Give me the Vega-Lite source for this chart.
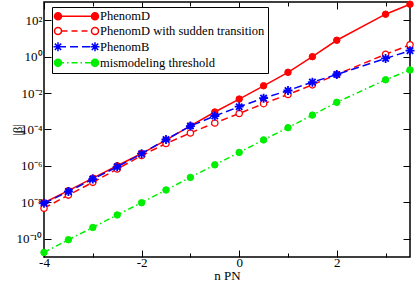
{
  "$schema": "https://vega.github.io/schema/vega-lite/v6.json",
  "width": 366,
  "height": 255,
  "autosize": "none",
  "padding": {"left": 44, "top": 2, "right": 5, "bottom": 26},
  "background": "white",
  "config": {
    "view": {"stroke": "black", "strokeWidth": 1.5},
    "font": "Liberation Serif",
    "axis": {"domain": false, "grid": false, "tickColor": "black", "labelColor": "black", "titleColor": "black", "labelFont": "Liberation Serif", "titleFont": "Liberation Serif", "titleFontWeight": "normal", "labelFlush": false, "labelOverlap": false, "labelBound": false, "tickWidth": 1},
    "legend": {"orient": "none", "legendX": 8, "legendY": 5, "strokeColor": "black", "fillColor": "white", "padding": 3, "symbolSize": 100, "symbolStrokeWidth": 1.5, "labelFont": "Liberation Serif", "labelFontSize": 12.5, "labelColor": "black", "labelLimit": 0, "labelOffset": 32.5, "rowPadding": 0.8, "title": null}
  },
  "datasets": {
    "curves": [
      {"n": -4, "beta": 9.55e-9, "series": "PhenomD"},
      {"n": -3.5, "beta": 4.37e-8, "series": "PhenomD"},
      {"n": -3, "beta": 2.14e-7, "series": "PhenomD"},
      {"n": -2.5, "beta": 1.02e-6, "series": "PhenomD"},
      {"n": -2, "beta": 4.79e-6, "series": "PhenomD"},
      {"n": -1.5, "beta": 2.63e-5, "series": "PhenomD"},
      {"n": -1, "beta": 1.585e-4, "series": "PhenomD"},
      {"n": -0.5, "beta": 9.12e-4, "series": "PhenomD"},
      {"n": 0, "beta": 4.68e-3, "series": "PhenomD"},
      {"n": 0.5, "beta": 2.51e-2, "series": "PhenomD"},
      {"n": 1, "beta": 0.138, "series": "PhenomD"},
      {"n": 1.5, "beta": 1.0, "series": "PhenomD"},
      {"n": 2, "beta": 7.94, "series": "PhenomD"},
      {"n": 3, "beta": 213.8, "series": "PhenomD"},
      {"n": 3.5, "beta": 758.6, "series": "PhenomD"},
      {"n": -4, "beta": 4.79e-9, "series": "PhenomD with sudden transition"},
      {"n": -3.5, "beta": 2.51e-8, "series": "PhenomD with sudden transition"},
      {"n": -3, "beta": 1.26e-7, "series": "PhenomD with sudden transition"},
      {"n": -2.5, "beta": 6.76e-7, "series": "PhenomD with sudden transition"},
      {"n": -2, "beta": 3.72e-6, "series": "PhenomD with sudden transition"},
      {"n": -1.5, "beta": 1.70e-5, "series": "PhenomD with sudden transition"},
      {"n": -1, "beta": 6.46e-5, "series": "PhenomD with sudden transition"},
      {"n": -0.5, "beta": 2.29e-4, "series": "PhenomD with sudden transition"},
      {"n": 0, "beta": 7.59e-4, "series": "PhenomD with sudden transition"},
      {"n": 0.5, "beta": 2.63e-3, "series": "PhenomD with sudden transition"},
      {"n": 1, "beta": 8.32e-3, "series": "PhenomD with sudden transition"},
      {"n": 1.5, "beta": 2.82e-2, "series": "PhenomD with sudden transition"},
      {"n": 2, "beta": 0.1047, "series": "PhenomD with sudden transition"},
      {"n": 3, "beta": 1.349, "series": "PhenomD with sudden transition"},
      {"n": 3.5, "beta": 4.467, "series": "PhenomD with sudden transition"},
      {"n": -4, "beta": 8.91e-9, "series": "PhenomB"},
      {"n": -3.5, "beta": 3.89e-8, "series": "PhenomB"},
      {"n": -3, "beta": 1.905e-7, "series": "PhenomB"},
      {"n": -2.5, "beta": 8.91e-7, "series": "PhenomB"},
      {"n": -2, "beta": 4.68e-6, "series": "PhenomB"},
      {"n": -1.5, "beta": 2.82e-5, "series": "PhenomB"},
      {"n": -1, "beta": 1.55e-4, "series": "PhenomB"},
      {"n": -0.5, "beta": 5.50e-4, "series": "PhenomB"},
      {"n": 0, "beta": 1.78e-3, "series": "PhenomB"},
      {"n": 0.5, "beta": 5.25e-3, "series": "PhenomB"},
      {"n": 1, "beta": 1.38e-2, "series": "PhenomB"},
      {"n": 1.5, "beta": 3.98e-2, "series": "PhenomB"},
      {"n": 2, "beta": 0.1047, "series": "PhenomB"},
      {"n": 3, "beta": 0.794, "series": "PhenomB"},
      {"n": 3.5, "beta": 2.138, "series": "PhenomB"},
      {"n": -4, "beta": 1.78e-11, "series": "mismodeling threshold"},
      {"n": -3.5, "beta": 8.91e-11, "series": "mismodeling threshold"},
      {"n": -3, "beta": 4.17e-10, "series": "mismodeling threshold"},
      {"n": -2.5, "beta": 2.04e-9, "series": "mismodeling threshold"},
      {"n": -2, "beta": 9.55e-9, "series": "mismodeling threshold"},
      {"n": -1.5, "beta": 4.79e-8, "series": "mismodeling threshold"},
      {"n": -1, "beta": 2.34e-7, "series": "mismodeling threshold"},
      {"n": -0.5, "beta": 1.15e-6, "series": "mismodeling threshold"},
      {"n": 0, "beta": 5.50e-6, "series": "mismodeling threshold"},
      {"n": 0.5, "beta": 2.69e-5, "series": "mismodeling threshold"},
      {"n": 1, "beta": 1.26e-4, "series": "mismodeling threshold"},
      {"n": 1.5, "beta": 6.17e-4, "series": "mismodeling threshold"},
      {"n": 2, "beta": 3.09e-3, "series": "mismodeling threshold"},
      {"n": 3, "beta": 5.37e-2, "series": "mismodeling threshold"},
      {"n": 3.5, "beta": 0.186, "series": "mismodeling threshold"}
    ]
  },
  "data": {"name": "curves"},
  "resolve": {"axis": {"x": "independent", "y": "independent"}},
  "layer": [
    {
      "transform": [{"filter": "datum.series == 'PhenomD'"}],
      "mark": {"type": "line", "color": "#ff0000", "strokeWidth": 1.5},
      "encoding": {
        "x": {"field": "n", "type": "quantitative", "scale": {"domain": [-4, 3.5], "nice": false, "zero": false}, "axis": {"orient": "top", "values": [-4, -2, 0, 2], "tickSize": -7, "labels": false, "title": null}},
        "y": {"field": "beta", "type": "quantitative", "scale": {"type": "log", "domain": [1e-11, 1000], "nice": false}, "axis": {"orient": "right", "values": [1e-10, 1e-8, 1e-6, 1e-4, 1e-2, 1, 100], "tickSize": -7, "labels": false, "title": null}}
      }
    },
    {
      "transform": [{"filter": "datum.series == 'PhenomD'"}],
      "mark": {"type": "point", "shape": "circle", "filled": true, "fill": "#ff0000", "stroke": "#ff0000", "strokeWidth": 1, "size": 42, "opacity": 1},
      "encoding": {
        "x": {"field": "n", "type": "quantitative", "axis": {"orient": "top", "values": [-3, -1, 1, 3], "tickSize": -4, "labels": false, "title": null}},
        "y": {"field": "beta", "type": "quantitative", "axis": null}
      }
    },
    {
      "transform": [{"filter": "datum.series == 'PhenomD with sudden transition'"}],
      "mark": {"type": "line", "color": "#ff0000", "strokeWidth": 1.5, "strokeDash": [7, 4]},
      "encoding": {
        "x": {"field": "n", "type": "quantitative", "axis": {"orient": "bottom", "values": [-3, -1, 1, 3], "tickSize": -4, "labels": false, "title": null}},
        "y": {"field": "beta", "type": "quantitative", "axis": null}
      }
    },
    {
      "transform": [{"filter": "datum.series == 'PhenomD with sudden transition'"}],
      "mark": {"type": "point", "shape": "circle", "filled": true, "fill": "white", "stroke": "#ff0000", "strokeWidth": 1.3, "size": 40, "opacity": 1},
      "encoding": {
        "x": {"field": "n", "type": "quantitative", "axis": null},
        "y": {"field": "beta", "type": "quantitative", "axis": null}
      }
    },
    {
      "transform": [{"filter": "datum.series == 'PhenomB'"}],
      "mark": {"type": "line", "color": "#0000ff", "strokeWidth": 1.5, "strokeDash": [8, 4]},
      "encoding": {
        "x": {"field": "n", "type": "quantitative", "axis": null},
        "y": {"field": "beta", "type": "quantitative", "axis": null}
      }
    },
    {
      "transform": [{"filter": "datum.series == 'PhenomB'"}],
      "mark": {"type": "point", "shape": "M-1,0H1M0,-1V1M-0.71,-0.71L0.71,0.71M-0.71,0.71L0.71,-0.71", "filled": false, "stroke": "#0000ff", "strokeWidth": 1.8, "size": 81, "opacity": 1},
      "encoding": {
        "x": {"field": "n", "type": "quantitative", "axis": null},
        "y": {"field": "beta", "type": "quantitative", "axis": null}
      }
    },
    {
      "transform": [{"filter": "datum.series == 'mismodeling threshold'"}],
      "mark": {"type": "line", "color": "#00ee00", "strokeWidth": 1.5, "strokeDash": [6, 3, 1.5, 3]},
      "encoding": {
        "x": {"field": "n", "type": "quantitative", "axis": {"orient": "bottom", "values": [-4, -2, 0, 2], "tickSize": -7, "labelPadding": 6, "labelFontSize": 13, "labelExpr": "'' + datum.value", "title": "n PN", "titleFontSize": 13, "titlePadding": 0}},
        "y": {"field": "beta", "type": "quantitative", "axis": {"orient": "left", "values": [1e-10, 1e-8, 1e-6, 1e-4, 1e-2, 1, 100], "tickSize": -7, "labelPadding": 9, "labelFontSize": 13, "labelExpr": "datum.value > 10 ? '10²' : datum.value > 0.1 ? '10⁰' : datum.value > 1e-3 ? '10⁻²' : datum.value > 1e-5 ? '10⁻⁴' : datum.value > 1e-7 ? '10⁻⁶' : datum.value > 1e-9 ? '10⁻⁸' : '10⁻¹⁰'", "title": "|β|", "titleFontSize": 13, "titlePadding": -8}}
      }
    },
    {
      "transform": [{"filter": "datum.series == 'mismodeling threshold'"}],
      "mark": {"type": "point", "shape": "circle", "filled": true, "fill": "#00ee00", "stroke": "#00ee00", "strokeWidth": 1, "size": 42, "opacity": 1},
      "encoding": {
        "x": {"field": "n", "type": "quantitative", "axis": null},
        "y": {"field": "beta", "type": "quantitative", "axis": null}
      }
    },
    {
      "transform": [{"filter": "false"}],
      "mark": {"type": "point", "filled": true, "strokeWidth": 1.5, "opacity": 1},
      "encoding": {
        "shape": {"field": "series", "type": "nominal", "scale": {"domain": ["PhenomD", "PhenomD with sudden transition", "PhenomB", "mismodeling threshold"], "range": [
          "M-0.65,0H6.75M-1.35,0a0.7,0.7 0 1,0 1.4,0a0.7,0.7 0 1,0 -1.4,0M6.05,0a0.7,0.7 0 1,0 1.4,0a0.7,0.7 0 1,0 -1.4,0",
          "M0.05,0H1.25M2.05,0H3.25M4.05,0H5.25M-1.35,0a0.7,0.7 0 1,0 1.4,0a0.7,0.7 0 1,0 -1.4,0M6.05,0a0.7,0.7 0 1,0 1.4,0a0.7,0.7 0 1,0 -1.4,0",
          "M-0.65,0H0.95M1.75,0H3.35M4.15,0H5.75M6.55,0H6.75M-1.55,0H0.25M-0.65,-0.9V0.9M-1.29,-0.64L-0.01,0.64M-1.29,0.64L-0.01,-0.64M5.85,0H7.65M6.75,-0.9V0.9M6.11,-0.64L7.39,0.64M6.11,0.64L7.39,-0.64",
          "M-0.65,0H0.55M1.15,0H1.45M2.05,0H3.25M3.85,0H4.15M4.75,0H5.95M6.55,0H6.75M-1.35,0a0.7,0.7 0 1,0 1.4,0a0.7,0.7 0 1,0 -1.4,0M6.05,0a0.7,0.7 0 1,0 1.4,0a0.7,0.7 0 1,0 -1.4,0"
        ]}},
        "stroke": {"field": "series", "type": "nominal", "scale": {"domain": ["PhenomD", "PhenomD with sudden transition", "PhenomB", "mismodeling threshold"], "range": ["#ff0000", "#ff0000", "#0000ff", "#00ee00"]}},
        "fill": {"field": "series", "type": "nominal", "scale": {"domain": ["PhenomD", "PhenomD with sudden transition", "PhenomB", "mismodeling threshold"], "range": ["#ff0000", "#ffffff", "#0000ff", "#00ee00"]}}
      }
    }
  ]
}
